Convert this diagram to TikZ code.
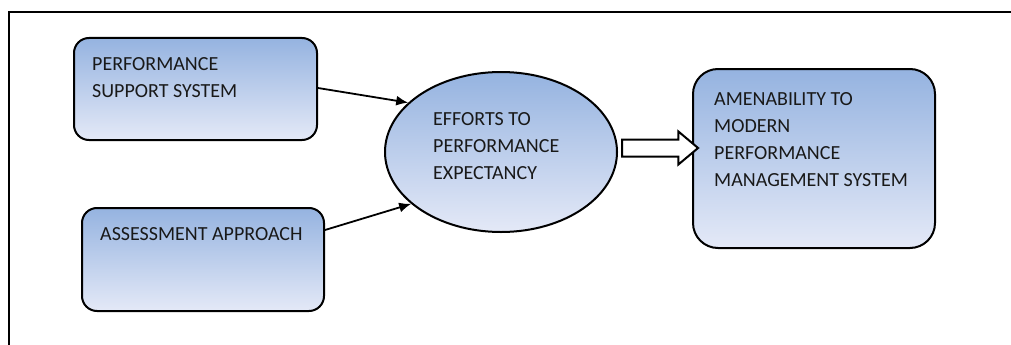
\documentclass[tikz,border=0pt]{standalone}
\usepackage{fontspec}
\setmainfont{Carlito}
\usepackage{xcolor}
\usetikzlibrary{arrows.meta,positioning,shapes.geometric,shapes.arrows}

\definecolor{boxtop}{RGB}{149,179,224}
\definecolor{boxbot}{RGB}{228,233,247}
\definecolor{inkgray}{RGB}{25,25,25}

\begin{document}
\begin{tikzpicture}[
  x=1pt,y=-1pt,
  box/.style={draw,line width=2pt,rounded corners=15pt,top color=boxtop,bottom color=boxbot,inner sep=0pt},
  bubble/.style={draw,ellipse,line width=2pt,top color=boxtop,bottom color=boxbot,inner sep=0pt,minimum width=232pt,minimum height=160pt},
  txt/.style={anchor=north west,inner sep=0pt,align=left,text=inkgray,font=\fontsize{20}{27}\selectfont},
  arrow/.style={-{Latex[length=12pt,width=10pt]},line width=1.8pt}
]
\useasboundingbox (0,0) rectangle (1011,345);
% frame
\draw[line width=2pt] (9,345) -- (9,12) -- (1011,12);
% boxes
\node[box,minimum width=243pt,minimum height=102pt] (pss) at (195.5,89) {};
\node[box,minimum width=242pt,minimum height=103pt] (assess) at (203,259.5) {};
\node[bubble] (effort) at (501,152) {};
\node[box,rounded corners=25pt,minimum width=242pt,minimum height=179pt] (amen) at (814,158.5) {};
% texts
\node[txt,below right=20pt and 19pt of pss.north west] (psstxt) {PERFORMANCE\\SUPPORT SYSTEM};
\node[txt,below right=20pt and 19pt of assess.north west] (assesstxt) {ASSESSMENT APPROACH};
\node[txt] (efforttxt) at (433,112) {EFFORTS TO\\PERFORMANCE\\EXPECTANCY};
\node[txt,below right=24pt and 22pt of amen.north west] (amentxt) {AMENABILITY TO\\MODERN\\PERFORMANCE\\MANAGEMENT SYSTEM};
% connectors
\draw[arrow] (pss.east |- 0,88) -- (effort.152);
\draw[arrow] (assess.east |- 0,230) -- (effort.210);
\node[single arrow,draw,line width=2pt,fill=white,inner sep=7.5pt,minimum height=76pt,
  single arrow head extend=8pt,single arrow tip angle=80] (flow) at (655,148) {};
\end{tikzpicture}
\end{document}
